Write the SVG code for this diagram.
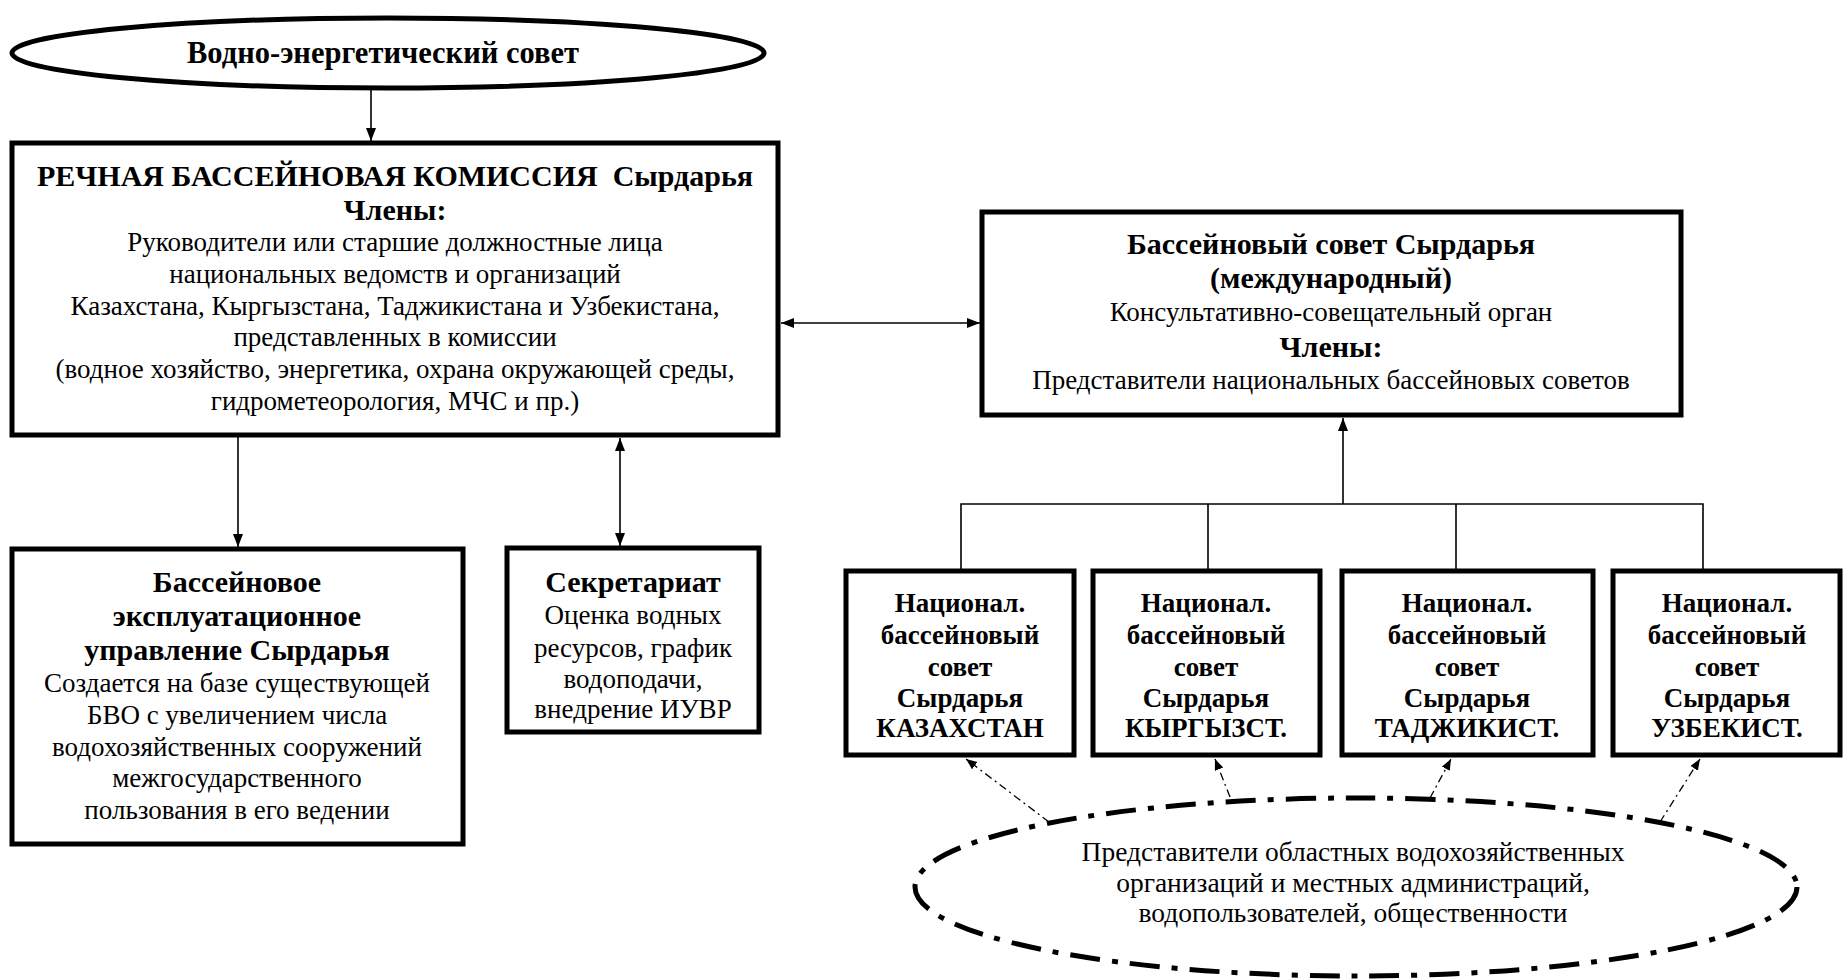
<svg xmlns="http://www.w3.org/2000/svg" width="1843" height="980" viewBox="0 0 1843 980">
<defs>
<marker id="ah" markerUnits="userSpaceOnUse" markerWidth="14" markerHeight="12" refX="13" refY="5" orient="auto-start-reverse">
<path d="M0,0 L13,5 L0,10 z" fill="#000"/>
</marker>
<marker id="ahs" markerUnits="userSpaceOnUse" markerWidth="12" markerHeight="10" refX="11" refY="4.5" orient="auto">
<path d="M0,0 L11,4.5 L0,9 z" fill="#000"/>
</marker>
</defs>
<style>
.box{fill:#fff;stroke:#000;stroke-width:5}
.t{font-family:"Liberation Serif","Times New Roman",serif;font-size:27px;text-anchor:middle;fill:#000}
.b{font-weight:bold}
.h{font-weight:bold;font-size:30px}
.ln{fill:none;stroke:#000;stroke-width:1.6}
.dl{fill:none;stroke:#000;stroke-width:1.3;stroke-dasharray:8 4 2 4}
</style>
<rect width="1843" height="980" fill="#fff"/>
<g id="connectors">
<line class="ln" x1="371" y1="89" x2="371" y2="141" marker-end="url(#ah)"/>
<line class="ln" x1="238" y1="436" x2="238" y2="547" marker-end="url(#ah)"/>
<line class="ln" x1="620" y1="438" x2="620" y2="546" marker-start="url(#ah)" marker-end="url(#ah)"/>
<line class="ln" x1="781" y1="323" x2="980" y2="323" marker-start="url(#ah)" marker-end="url(#ah)"/>
<path class="ln" d="M961 570 V504 H1703 V570 M1208 504 V570 M1456 504 V570"/>
<line class="ln" x1="1343" y1="504" x2="1343" y2="418" marker-end="url(#ah)"/>
<line class="dl" x1="1049" y1="822" x2="966" y2="759" marker-end="url(#ahs)"/>
<line class="dl" x1="1230" y1="797" x2="1215" y2="759" marker-end="url(#ahs)"/>
<line class="dl" x1="1430" y1="798" x2="1451" y2="759" marker-end="url(#ahs)"/>
<line class="dl" x1="1660" y1="822" x2="1700" y2="759" marker-end="url(#ahs)"/>
</g>
<g id="water-energy-council">
<ellipse cx="388" cy="53" rx="376" ry="35" fill="#fff" stroke="#000" stroke-width="5"/>
<text class="t h" x="383" y="63" style="font-size:30.5px">Водно-энергетический совет</text>
</g>
<g id="river-basin-commission">
<rect class="box" x="12" y="143" width="766" height="292"/>
<text class="t h" x="395" y="186" xml:space="preserve">РЕЧНАЯ БАССЕЙНОВАЯ КОМИССИЯ  Сырдарья</text>
<text class="t h" x="395" y="220">Члены:</text>
<text class="t" x="395" y="251">Руководители или старшие должностные лица</text>
<text class="t" x="395" y="283">национальных ведомств и организаций</text>
<text class="t" x="395" y="315">Казахстана, Кыргызстана, Таджикистана и Узбекистана,</text>
<text class="t" x="395" y="346">представленных в комиссии</text>
<text class="t" x="395" y="378">(водное хозяйство, энергетика, охрана окружающей среды,</text>
<text class="t" x="395" y="410">гидрометеорология, МЧС и пр.)</text>
</g>
<g id="basin-council">
<rect class="box" x="982" y="212" width="699" height="203"/>
<text class="t h" x="1331" y="254">Бассейновый совет Сырдарья</text>
<text class="t h" x="1331" y="288">(международный)</text>
<text class="t" x="1331" y="321">Консультативно-совещательный орган</text>
<text class="t h" x="1331" y="357">Члены:</text>
<text class="t" x="1331" y="389">Представители национальных бассейновых советов</text>
</g>
<g id="basin-operation-management">
<rect class="box" x="12" y="549" width="451" height="295"/>
<text class="t h" x="237" y="592">Бассейновое</text>
<text class="t h" x="237" y="626">эксплуатационное</text>
<text class="t h" x="237" y="660">управление Сырдарья</text>
<text class="t" x="237" y="692">Создается на базе существующей</text>
<text class="t" x="237" y="724">БВО с увеличением числа</text>
<text class="t" x="237" y="756">водохозяйственных сооружений</text>
<text class="t" x="237" y="787">межгосударственного</text>
<text class="t" x="237" y="819">пользования в его ведении</text>
</g>
<g id="secretariat">
<rect class="box" x="507" y="548" width="252" height="184"/>
<text class="t h" x="633" y="592">Секретариат</text>
<text class="t" x="633" y="624">Оценка водных</text>
<text class="t" x="633" y="657">ресурсов, график</text>
<text class="t" x="633" y="688">водоподачи,</text>
<text class="t" x="633" y="718">внедрение ИУВР</text>
</g>
<g id="nbc-kazakhstan">
<rect class="box" x="846" y="571" width="228" height="184"/>
<text class="t b" x="960" y="612">Национал.</text>
<text class="t b" x="960" y="644">бассейновый</text>
<text class="t b" x="960" y="676">совет</text>
<text class="t b" x="960" y="707">Сырдарья</text>
<text class="t b" x="960" y="737">КАЗАХСТАН</text>
</g>
<g id="nbc-kyrgyzstan">
<rect class="box" x="1093" y="571" width="227" height="184"/>
<text class="t b" x="1206" y="612">Национал.</text>
<text class="t b" x="1206" y="644">бассейновый</text>
<text class="t b" x="1206" y="676">совет</text>
<text class="t b" x="1206" y="707">Сырдарья</text>
<text class="t b" x="1206" y="737">КЫРГЫЗСТ.</text>
</g>
<g id="nbc-tajikistan">
<rect class="box" x="1342" y="571" width="251" height="184"/>
<text class="t b" x="1467" y="612">Национал.</text>
<text class="t b" x="1467" y="644">бассейновый</text>
<text class="t b" x="1467" y="676">совет</text>
<text class="t b" x="1467" y="707">Сырдарья</text>
<text class="t b" x="1467" y="737">ТАДЖИКИСТ.</text>
</g>
<g id="nbc-uzbekistan">
<rect class="box" x="1613" y="571" width="227" height="184"/>
<text class="t b" x="1727" y="612">Национал.</text>
<text class="t b" x="1727" y="644">бассейновый</text>
<text class="t b" x="1727" y="676">совет</text>
<text class="t b" x="1727" y="707">Сырдарья</text>
<text class="t b" x="1727" y="737">УЗБЕКИСТ.</text>
</g>
<g id="local-representatives">
<ellipse cx="1356" cy="887" rx="441" ry="89" fill="none" stroke="#000" stroke-width="5" stroke-dasharray="30 12 6 12"/>
<text class="t" x="1353" y="861" style="font-size:27.5px">Представители областных водохозяйственных</text>
<text class="t" x="1353" y="892" style="font-size:27.5px">организаций и местных администраций,</text>
<text class="t" x="1353" y="922" style="font-size:27.5px">водопользователей, общественности</text>
</g>
</svg>
